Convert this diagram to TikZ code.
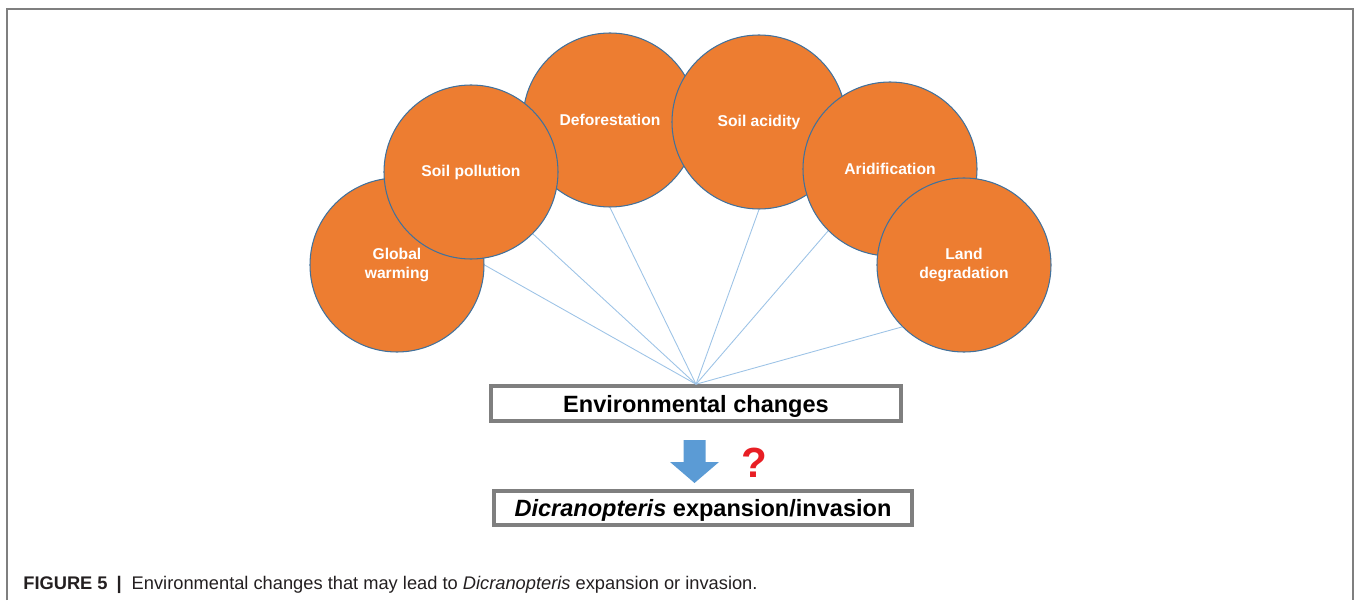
\documentclass[tikz,border=0pt]{standalone}
\usepackage{fontspec}
\setmainfont{Liberation Sans}
\definecolor{envOrange}{RGB}{237,125,49}
\definecolor{envEdge}{RGB}{65,113,156}
\definecolor{envLink}{RGB}{157,195,230}
\definecolor{envGray}{RGB}{127,127,127}
\definecolor{envBlue}{RGB}{91,155,213}
\definecolor{envRed}{RGB}{232,30,36}
\definecolor{envText}{RGB}{35,31,32}
\usetikzlibrary{arrows.meta}

\begin{document}
\begin{tikzpicture}[
    factor/.style={circle, minimum size=3.48cm, inner sep=0pt, fill=envOrange,
                   draw=envEdge, line width=0.6pt, text=white, align=center,
                   font=\fontsize{8.9}{10.4}\selectfont\bfseries},
    stagebox/.style={rectangle, draw=envGray, line width=2.3pt, fill=white,
                     minimum height=0.69cm, inner sep=0pt, text=black,
                     text depth=0pt, font=\fontsize{13.4}{16}\selectfont\bfseries},
    link/.style={envLink, line width=0.5pt}
  ]
  \useasboundingbox (0,0) rectangle (27.12,12);
  \draw[envGray, line width=0.6pt] (0.14,0) -- (0.14,11.82) -- (27.06,11.82) -- (27.06,0);

  % causes, back to front
  \node[factor] (gw) at (7.94,6.70)  {Global\\warming};
  \node[factor] (df) at (12.20,9.60) {Deforestation};
  \node[factor] (sp) at (9.42,8.56)  {Soil pollution};
  \node[factor] (sa) at (15.18,9.56) {Soil acidity};
  \node[factor] (ar) at (17.80,8.62) {Aridification};
  \node[factor] (ld) at (19.28,6.70) {Land\\degradation};

  \node[stagebox, minimum width=8.2cm]  (env)  at (13.92,3.93) {Environmental changes};
  \node[stagebox, minimum width=8.36cm] (dicr) at (14.06,1.84)
    {\textit{Dicranopteris} expansion/invasion};

  \draw[link] (gw.east)       -- (env.north);
  \draw[link] (sp.south east) -- (env.north);
  \draw[link] (df.south)      -- (env.north);
  \draw[link] (sa.south)      -- (env.north);
  \draw[link] (ar.south west) -- (env.north);
  \draw[link] (ld.south west) -- (env.north);

  % block arrow and the doubt mark
  \fill[envBlue] (13.67,3.20) -- (14.11,3.20) -- (14.11,2.76) -- (14.38,2.76)
    -- (13.89,2.34) -- (13.40,2.76) -- (13.67,2.76) -- cycle;
  \node[font=\fontsize{24}{28}\selectfont\bfseries, text=envRed] (doubt) at (15.08,2.75) {?};

  \node[anchor=base west, inner sep=0pt, text=envText, font=\fontsize{10.4}{12}\selectfont]
    (cap) at (0.46,0.22)
    {\textbf{FIGURE 5}\hspace{0.18cm}\textbf{|}\hspace{0.2cm}Environmental changes that may lead to \textit{Dicranopteris} expansion or invasion.};
\end{tikzpicture}
\end{document}
